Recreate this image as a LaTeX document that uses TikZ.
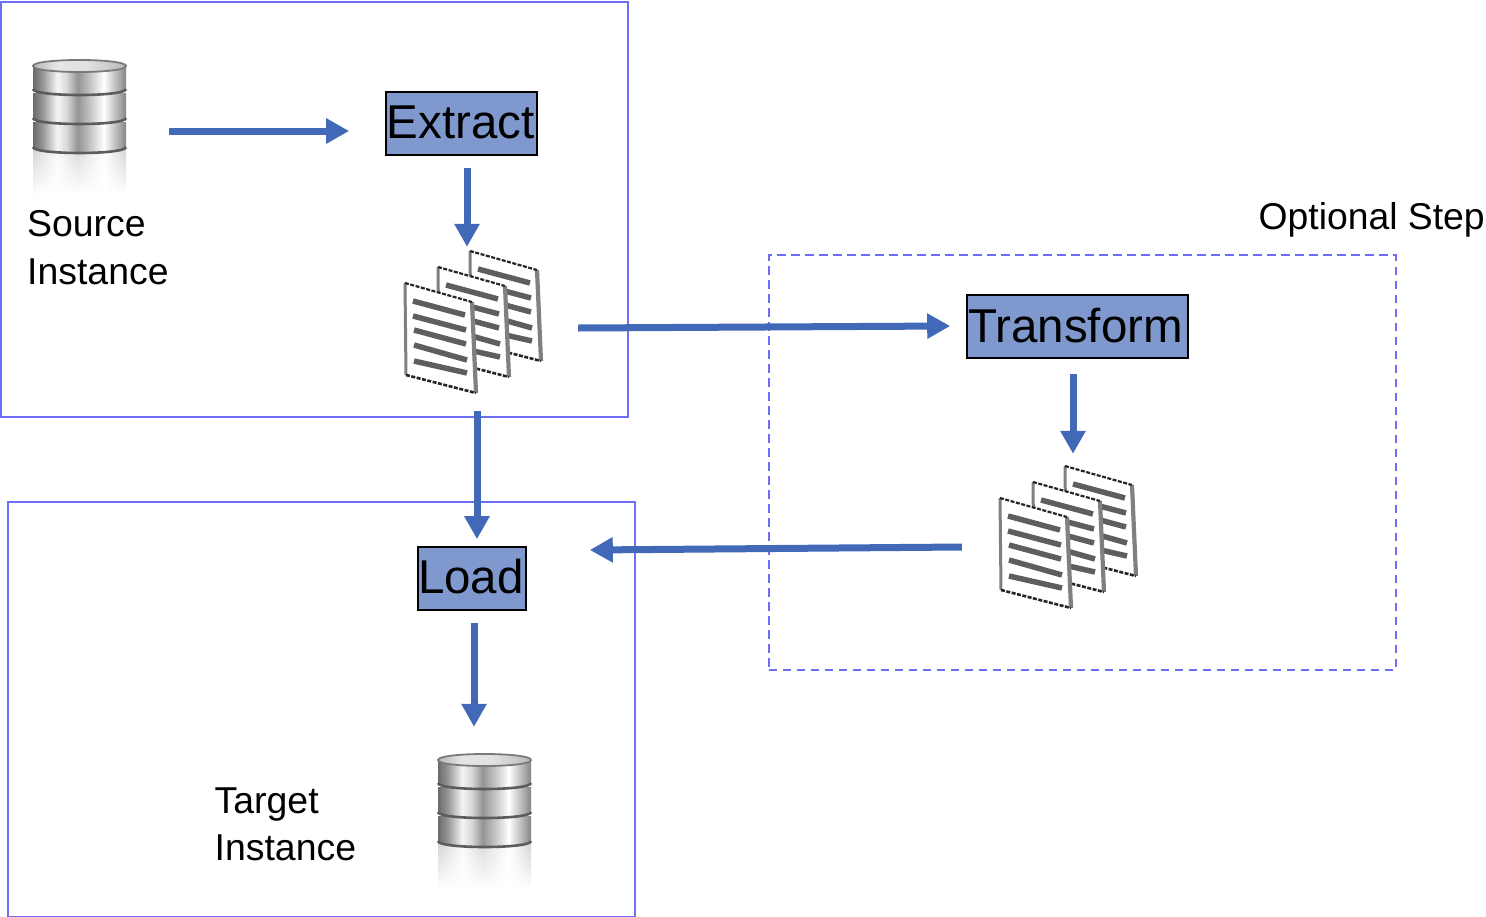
\documentclass[tikz,border=0pt]{standalone}
\usepackage{fontspec}
\setmainfont{Liberation Sans}
\usetikzlibrary{arrows.meta,fadings}
\definecolor{frameblue}{HTML}{6E6EF6}
\definecolor{flowblue}{HTML}{4268B8}
\definecolor{stepfill}{HTML}{7F98CE}
\definecolor{barGray}{HTML}{5E5E5E}
\pgfdeclarehorizontalshading{metal}{100bp}{
 color(0bp)=(white!42!black);color(25bp)=(white!42!black);color(30bp)=(white!58!black);color(38bp)=(white!96!black);color(43bp)=(white!85!black);
 color(49bp)=(white!58!black);color(55bp)=(white!75!black);color(63bp)=(white);color(70bp)=(white!72!black);color(75bp)=(white!52!black);color(100bp)=(white!52!black)}
\pgfdeclarehorizontalshading{metallight}{100bp}{
 color(0bp)=(white!82!black);color(25bp)=(white!82!black);color(38bp)=(white!98!black);color(49bp)=(white!85!black);color(63bp)=(white);color(75bp)=(white!82!black);color(100bp)=(white!82!black)}
\pgfdeclarehorizontalshading{lid}{100bp}{
 color(0bp)=(white!72!black);color(25bp)=(white!72!black);color(38bp)=(white!90!black);color(55bp)=(white!88!black);color(75bp)=(white!72!black);color(100bp)=(white!72!black)}
\tikzset{
 x=1pt,y=-1pt,
 frame/.style={draw=frameblue,line width=2.1pt,minimum width=627pt,minimum height=415pt,inner sep=0pt,anchor=north west},
 stepbox/.style={draw=black,line width=1.6pt,fill=stepfill,inner sep=0pt,font=\fontsize{47.5}{50}\selectfont,text=black},
 flow/.style={draw=flowblue,line width=7pt,-{Triangle[length=23pt,width=24pt]}},
 label/.style={inner sep=0pt,anchor=base west,font=\fontsize{37.4}{48}\selectfont},
 anchorbox/.style={inner sep=0pt,minimum width=#1},
 bar/.style={draw=barGray,line width=5.5pt},
 dbpic/.pic={
  \shade[shading=metallight,path fading=south] (0,87) -- (0,135) -- (93,135) -- (93,87) -- cycle;
  \foreach \a/\b in {58/87,29/58,0/29}{
   \shade[shading=metal] (0,\a+4) -- (0,\b) .. controls (0,\b+8) and (93,\b+8) .. (93,\b) -- (93,\a+4) -- cycle;
   \draw[white!36!black,line width=2.6pt] (0,\b) .. controls (0,\b+8) and (93,\b+8) .. (93,\b);
  }
  \shade[shading=lid] (0,6) .. controls (0,-2) and (93,-2) .. (93,6) .. controls (93,14) and (0,14) .. (0,6) -- cycle;
  \draw[white!48!black,line width=1.8pt] (0,6) .. controls (0,-2) and (93,-2) .. (93,6) .. controls (93,14) and (0,14) .. (0,6) -- cycle;
 },
 sheetpic/.pic={
  \fill[white] (0,0) -- (67,19) -- (71,110) -- (1,92) -- cycle;
  \draw[white!50!black,line width=3pt] (0,0) -- (1,92);
  \draw[white!50!black,line width=4.2pt] (67,19) -- (71,110);
  \draw[black!85,line width=2.2pt,dash pattern=on 4pt off 1.5pt] (0,0) -- (67,19);
  \draw[black!85,line width=2.6pt,dash pattern=on 4pt off 1.5pt] (1,92) -- (71,110);
  \draw[bar] (8,18) -- (60,32);
  \draw[bar] (8,33) -- (61,47);
  \draw[bar] (9,47) -- (61,61);
  \draw[bar] (9,62) -- (62,77);
  \draw[bar] (9,78) -- (62,90);
 },
 docspic/.pic={
  \pic at (65,-32) {sheetpic};
  \pic at (33,-16) {sheetpic};
  \pic at (0,0) {sheetpic};
 }
}
\begin{document}
\begin{tikzpicture}
\useasboundingbox (0,0) rectangle (1486,916);
% frames
\node[frame] (sourceframe) at (0,1) {};
\node[frame] (targetframe) at (6.5,501) {};
\node[frame,dashed,dash pattern=on 8.5pt off 5.5pt] (optionalframe) at (767.5,254) {};
% images
\pic at (33,60) {dbpic};
\pic at (438,754) {dbpic};
\pic at (405,283) {docspic};
\pic at (1000,498) {docspic};
\node[anchorbox=93pt,minimum height=130pt] (srcdb) at (79.5,125) {};
\node[anchorbox=93pt,minimum height=130pt] (tgtdb) at (484.5,819) {};
\node[anchorbox=137pt,minimum height=142pt] (docsa) at (473.5,322) {};
\node[anchorbox=137pt,minimum height=142pt] (docsb) at (1068.5,537) {};
% steps
\node[stepbox,minimum width=151pt,minimum height=63pt] (extract) at (461.5,123.5) {\raisebox{2.5pt}{\hspace*{-2pt}Extract}};
\node[stepbox,minimum width=221pt,minimum height=63pt] (transform) at (1077.5,326.5) {\raisebox{3pt}{\hspace*{-4pt}Transform}};
\node[stepbox,minimum width=108pt,minimum height=63pt] (load) at (472,578.5) {\raisebox{3.5pt}{\hspace*{-2pt}Load}};
% labels
\node[label] (srclabela) at (27,236) {Source};
\node[label] (srclabelb) at (27,284) {Instance};
\node[label] (tgtlabela) at (214.5,813) {Target};
\node[label] (tgtlabelb) at (214.5,860) {Instance};
\node[label,font=\fontsize{37.3}{48}\selectfont] (optlabel) at (1258.5,229) {Optional Step};
% connectors
\draw[flow] ([shift={(43,6)}]srcdb.east) -- ([shift={(-36,7.5)}]extract.west);
\draw[flow] ([shift={(5.5,12.5)}]extract.south) -- ([shift={(-6.5,-4)}]docsa.north);
\draw[flow] ([shift={(36,6)}]docsa.east) -- ([shift={(-16,-0.5)}]transform.west);
\draw[flow] ([shift={(3.5,18)}]docsa.south) -- ([shift={(5,-7)}]load.north);
\draw[flow] ([shift={(-4.5,15.5)}]transform.south) -- ([shift={(4.5,-12)}]docsb.north);
\draw[flow] ([shift={(-38,10)}]docsb.west) -- ([shift={(63,-28.5)}]load.east);
\draw[flow] ([shift={(2,12)}]load.south) -- ([shift={(-10.5,-27)}]tgtdb.north);
\end{tikzpicture}
\end{document}
